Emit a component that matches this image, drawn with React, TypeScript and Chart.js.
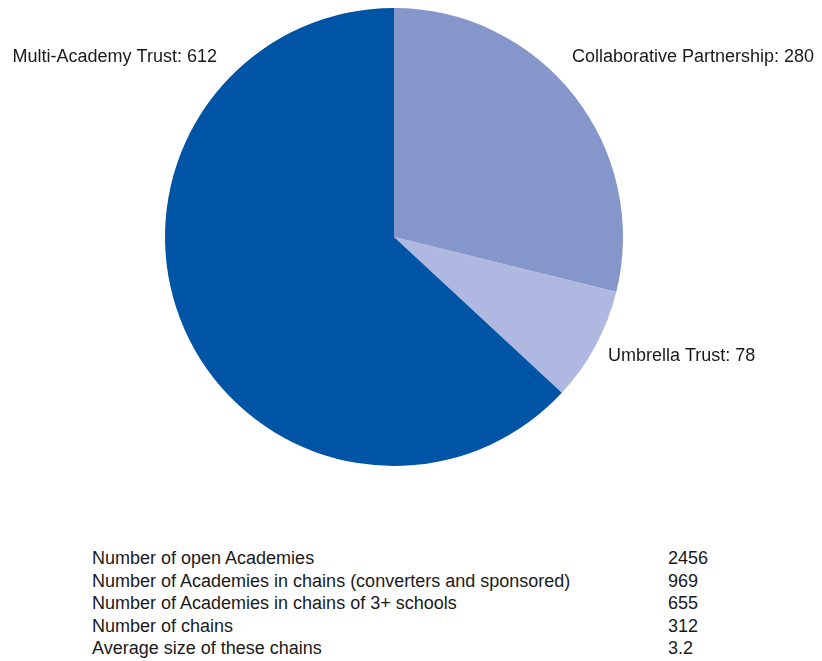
import React, { useEffect, useRef } from "react";
import { Chart, registerables } from "chart.js";

Chart.register(...registerables);

const categories = ["Collaborative Partnership", "Umbrella Trust", "Multi-Academy Trust"];
const values = [280, 78, 612];
const colors = ["#8596CB", "#AFB8E0", "#0054A6"];

const tableLabels = [
  "Number of open Academies",
  "Number of Academies in chains (converters and sponsored)",
  "Number of Academies in chains of 3+ schools",
  "Number of chains",
  "Average size of these chains",
];
const tableValues = ["2456", "969", "655", "312", "3.2"];

const FONT = '"Liberation Sans", Arial, Helvetica, sans-serif';

const labelPlugin = {
  id: "sliceLabels",
  afterDraw(chart: any) {
    const meta = chart.getDatasetMeta(0);
    const arc = meta.data[0];
    if (!arc) return;
    const cx = arc.x;
    const cy = arc.y;
    const r = arc.outerRadius;
    const ctx = chart.ctx;
    ctx.save();
    ctx.font = "18px " + FONT;
    ctx.fillStyle = "#1a1a1a";
    ctx.textBaseline = "middle";
    const place = [
      { dx: 0.777, dy: -0.786, align: "left" },
      { dx: 0.934, dy: 0.52, align: "left" },
      { dx: -0.773, dy: -0.786, align: "right" },
    ];
    categories.forEach((c, i) => {
      const p = place[i];
      ctx.textAlign = p.align;
      ctx.fillText(c + ": " + values[i], cx + p.dx * r, cy + p.dy * r);
    });
    ctx.restore();
  },
};

export default function App() {
  const ref = useRef<HTMLCanvasElement | null>(null);
  useEffect(() => {
    if (!ref.current) return;
    const chart = new Chart(ref.current, {
      type: "pie",
      data: {
        labels: categories,
        datasets: [
          {
            data: values,
            backgroundColor: colors,
            borderWidth: 0,
          },
        ],
      },
      options: {
        animation: false,
        responsive: false,
        maintainAspectRatio: false,
        layout: { padding: { top: 8, bottom: 14, left: 165, right: 199 } },
        plugins: {
          legend: { display: false },
          tooltip: { enabled: false },
        },
      },
      plugins: [labelPlugin as any],
    });
    return () => chart.destroy();
  }, []);

  return (
    <div
      style={{
        position: "absolute",
        left: 0,
        top: 0,
        width: 822,
        height: 661,
        background: "#fff",
        fontFamily: FONT,
        color: "#1a1a1a",
      }}
    >
      <canvas ref={ref} width={822} height={480} style={{ display: "block" }} />
      <div style={{ position: "absolute", left: 92, top: 547, fontSize: 18, lineHeight: "22.5px" }}>
        {tableLabels.map((l, i) => (
          <div key={i} style={{ position: "relative", whiteSpace: "nowrap", height: 22.5 }}>
            <span>{l}</span>
            <span style={{ position: "absolute", left: 576 }}>{tableValues[i]}</span>
          </div>
        ))}
      </div>
    </div>
  );
}
